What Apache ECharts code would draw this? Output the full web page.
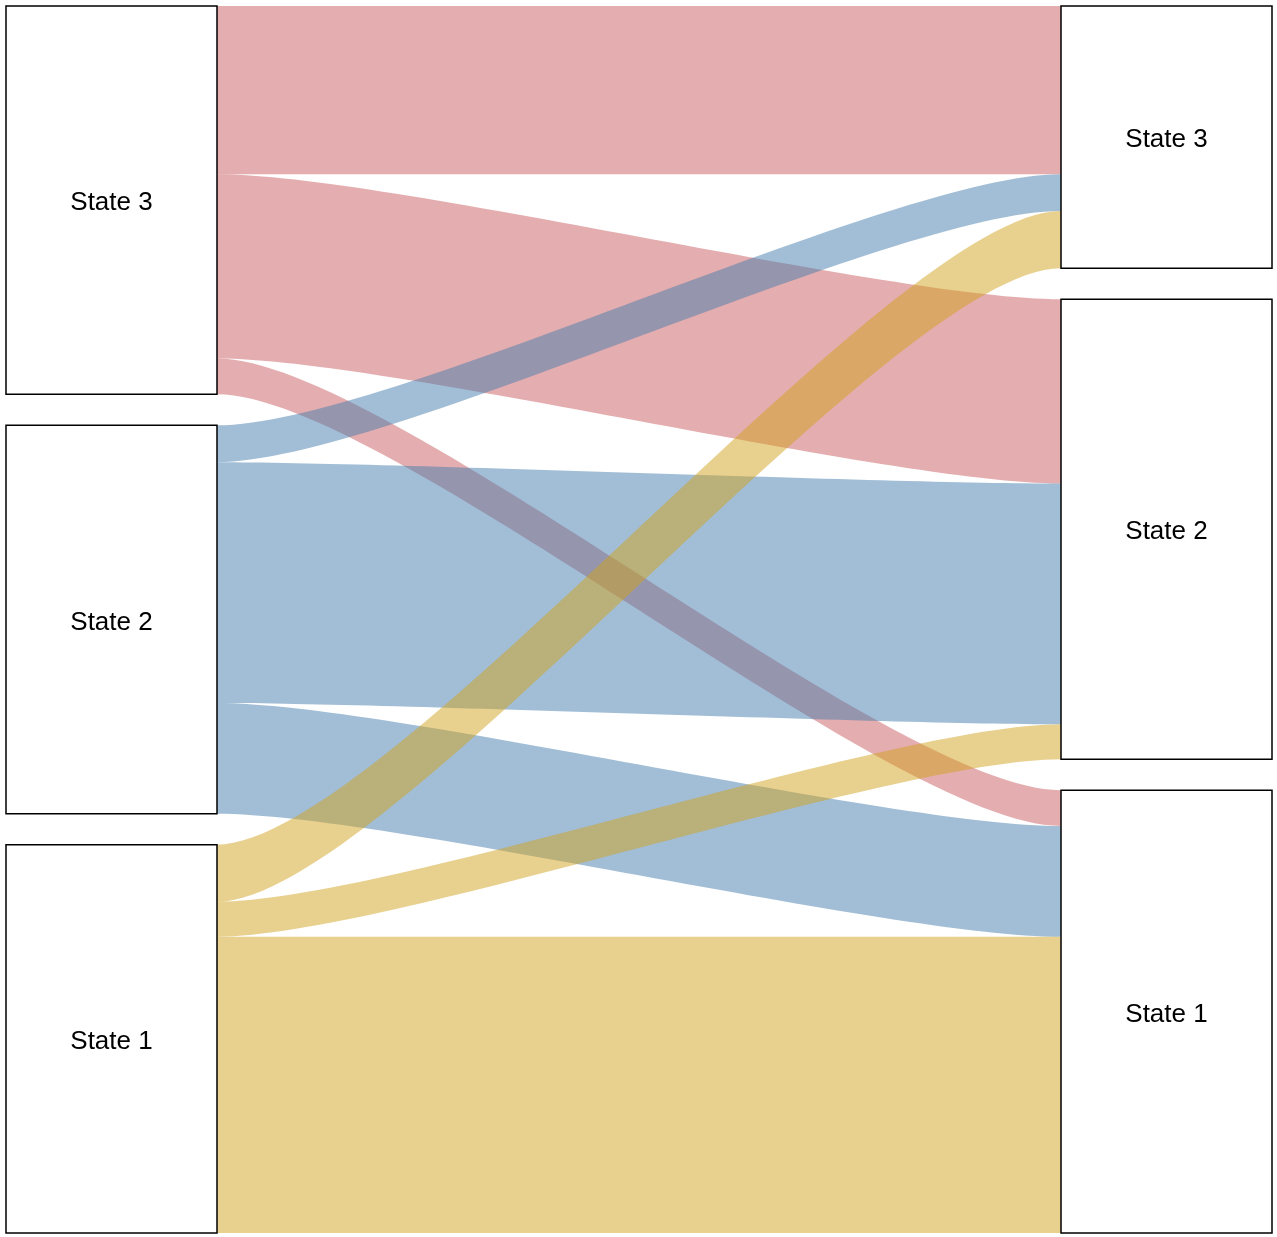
<!DOCTYPE html>
<html>
<head>
<meta charset="utf-8">
<script src="https://cdn.jsdelivr.net/npm/echarts@6/dist/echarts.min.js"></script>
<style>
html,body{margin:0;padding:0;background:#fff;}
#chart{width:1277px;height:1237px;}
</style>
</head>
<body>
<div id="chart"></div>
<script>
// States, top to bottom in each column
var states = ['State 3', 'State 2', 'State 1'];
// Flow values from each left state to right states (order: State 3, State 2, State 1)
var fromState3 = [43.3, 47.5, 9.2];
var fromState2 = [9.5, 62.0, 28.5];
var fromState1 = [14.7, 9.0, 76.3];
// Flow colours by source state
var stateColors = ['#C95B5F', '#457DAD', '#D1A11D'];

var flows = [fromState3, fromState2, fromState1];

var nodes = [];
states.forEach(function (s) { nodes.push({ name: 'L|' + s }); });
states.forEach(function (s) { nodes.push({ name: 'R|' + s }); });

var links = [];
flows.forEach(function (row, i) {
  row.forEach(function (v, j) {
    links.push({
      source: 'L|' + states[i],
      target: 'R|' + states[j],
      value: v,
      lineStyle: { color: stateColors[i], opacity: 0.5 }
    });
  });
});

var chart = echarts.init(document.getElementById('chart'), null, { renderer: 'canvas' });
chart.setOption({
  animation: false,
  backgroundColor: '#ffffff',
  series: [{
    type: 'sankey',
    left: 6,
    right: 5,
    top: 6,
    bottom: 4,
    nodeWidth: 211,
    nodeGap: 31,
    layoutIterations: 0,
    draggable: false,
    silent: true,
    emphasis: { disabled: true },
    data: nodes,
    links: links,
    itemStyle: { color: '#ffffff', borderColor: '#000000', borderWidth: 1.5, opacity: 1 },
    lineStyle: { curveness: 0.2 },
    label: {
      show: true,
      position: 'inside',
      offset: [0, 3],
      color: '#000000',
      fontSize: 26,
      fontFamily: 'Liberation Sans, Arial, sans-serif',
      formatter: function (p) { return p.name.split('|')[1]; }
    }
  }]
});
</script>
</body>
</html>
